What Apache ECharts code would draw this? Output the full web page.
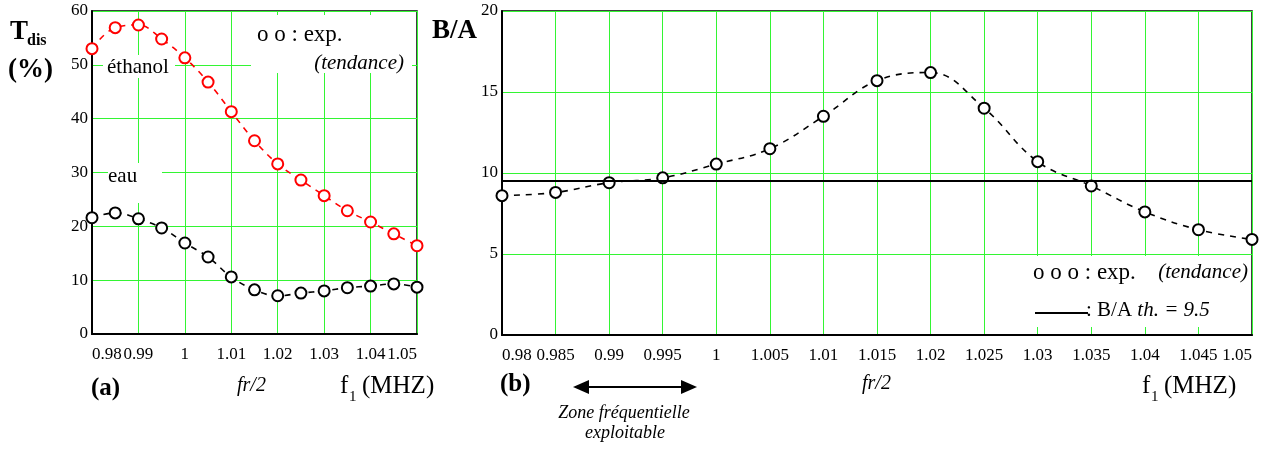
<!DOCTYPE html>
<html>
<head>
<meta charset="utf-8">
<script src="https://cdn.jsdelivr.net/npm/echarts@6/dist/echarts.min.js"></script>
<style>
  html, body { margin: 0; padding: 0; background: #fff; }
  #chart { width: 1272px; height: 452px; }
</style>
</head>
<body>
<div id="chart"></div>
<script>
// ---- data ----
const freqs = [0.98, 0.985, 0.99, 0.995, 1.0, 1.005, 1.01, 1.015, 1.02, 1.025, 1.03, 1.035, 1.04, 1.045, 1.05];
const ethanolTdis = [53.0, 56.9, 57.4, 54.8, 51.3, 46.8, 41.3, 35.9, 31.6, 28.6, 25.7, 22.9, 20.8, 18.6, 16.4];
const eauTdis = [21.6, 22.5, 21.4, 19.7, 16.9, 14.3, 10.6, 8.2, 7.1, 7.6, 8.0, 8.6, 8.9, 9.3, 8.7];
const ratioBA = [8.6, 8.8, 9.4, 9.7, 10.55, 11.5, 13.5, 15.7, 16.2, 14.0, 10.7, 9.2, 7.6, 6.5, 5.9];
const thresholdBA = 9.5;
const xRange = [0.98, 1.05];
const leftYRange = [0, 60];
const rightYRange = [0, 20];

const FONT = 'Liberation Serif';
const GREEN = '#33f533';

function pairs(xs, ys) { return xs.map((x, i) => [x, ys[i]]); }
const fmt = v => String(parseFloat(Number(v).toFixed(3)));

function xAxisFor(gridIndex, interval) {
  return {
    type: 'value', gridIndex, min: xRange[0], max: xRange[1], interval,
    axisLine: { show: true, onZero: false, lineStyle: { color: '#000', width: 2 } },
    axisTick: { show: false },
    splitLine: { show: true, lineStyle: { color: GREEN, width: 1 } },
    axisLabel: {
      color: '#000', fontFamily: FONT, fontSize: 17, margin: 12,
      formatter: fmt, showMinLabel: true, showMaxLabel: true, hideOverlap: false,
      interval: 0, alignMinLabel: 'left', alignMaxLabel: 'right'
    }
  };
}
function yAxisFor(gridIndex, range, interval) {
  return {
    type: 'value', gridIndex, min: range[0], max: range[1], interval,
    axisLine: { show: true, lineStyle: { color: '#000', width: 2 } },
    axisTick: { show: false },
    splitLine: { show: true, lineStyle: { color: GREEN, width: 1 } },
    axisLabel: { color: '#000', fontFamily: FONT, fontSize: 17, margin: 4 }
  };
}
function curve(name, xi, yi, data, color) {
  return {
    name, type: 'line', xAxisIndex: xi, yAxisIndex: yi, data,
    smooth: 0.4, symbol: 'emptyCircle', symbolSize: 11,
    itemStyle: { color: color, borderColor: color, borderWidth: 1.6 },
    lineStyle: { color: color, width: 1.6, type: [6, 6] },
    clip: false, z: 3
  };
}

const txt = (x, y, text, font, extra) => ({
  type: 'text', x, y, z: 5,
  style: Object.assign({ text, font, fill: '#000', align: 'left', verticalAlign: 'top' }, extra || {})
});
const box = (x, y, w, h) => ({ type: 'rect', z: 1, shape: { x, y, width: w, height: h }, style: { fill: '#fff' } });

const chart = echarts.init(document.getElementById('chart'));
chart.setOption({
  animation: false,
  backgroundColor: '#fff',
  grid: [
    { left: 92, top: 11, width: 325, height: 323, show: true, borderColor: '#000', borderWidth: 1.5, backgroundColor: 'transparent' },
    { left: 502, top: 11, width: 750, height: 324, show: true, borderColor: '#000', borderWidth: 1.5, backgroundColor: 'transparent' }
  ],
  xAxis: [xAxisFor(0, 0.01), xAxisFor(1, 0.005)],
  yAxis: [yAxisFor(0, leftYRange, 10), yAxisFor(1, rightYRange, 5)],
  series: [
    curve('éthanol', 0, 0, pairs(freqs, ethanolTdis), '#ff0000'),
    curve('eau', 0, 0, pairs(freqs, eauTdis), '#000000'),
    Object.assign(curve('B/A', 1, 1, pairs(freqs, ratioBA), '#000000'), {
      markLine: {
        silent: true, symbol: 'none', label: { show: false },
        lineStyle: { color: '#000', width: 2, type: 'solid' },
        data: [{ yAxis: thresholdBA }]
      }
    })
  ],
  graphic: [
    // white text regions that hide the grid
    box(251, 15, 161, 58),
    box(103, 55, 72, 23),
    box(108, 163, 54, 40),
    box(1003, 256, 247, 71),
    // left panel
    txt(10, 19, 'T', 'bold 27px "Liberation Serif"'),
    txt(27, 33, 'dis', 'bold 16px "Liberation Serif"'),
    txt(8, 57, '(%)', 'bold 27px "Liberation Serif"'),
    txt(107, 57, 'éthanol', '21px "Liberation Serif"'),
    txt(108, 166, 'eau', '21px "Liberation Serif"'),
    txt(257, 23, 'o o : exp.', '23px "Liberation Serif"'),
    txt(404, 53, '(tendance)', 'italic 21px "Liberation Serif"', { align: 'right' }),
    txt(91, 376, '(a)', 'bold 25px "Liberation Serif"'),
    txt(237, 376, 'fr/2', 'italic 20px "Liberation Serif"'),
    txt(340, 374, 'f', '25px "Liberation Serif"'),
    txt(349, 390, '1', '15px "Liberation Serif"'),
    txt(362, 374, '(MHZ)', '25px "Liberation Serif"'),
    // right panel
    txt(432, 18, 'B/A', 'bold 27px "Liberation Serif"'),
    txt(1033, 261, 'o o o : exp.', '23px "Liberation Serif"'),
    txt(1248, 262, '(tendance)', 'italic 21px "Liberation Serif"', { align: 'right' }),
    { type: 'line', z: 5, shape: { x1: 1035, y1: 313, x2: 1088, y2: 313 }, style: { stroke: '#000', lineWidth: 2 } },
    txt(1086, 300, '{n|: B/A }{i|th. = 9.5}', '21px "Liberation Serif"', {
      rich: {
        n: { fontFamily: FONT, fontSize: 21, fill: '#000' },
        i: { fontFamily: FONT, fontSize: 21, fontStyle: 'italic', fill: '#000' }
      }
    }),
    txt(500, 372, '(b)', 'bold 25px "Liberation Serif"'),
    { type: 'line', z: 5, shape: { x1: 585, y1: 387, x2: 685, y2: 387 }, style: { stroke: '#000', lineWidth: 2 } },
    { type: 'polygon', z: 5, shape: { points: [[573, 387], [589, 380], [589, 394]] }, style: { fill: '#000' } },
    { type: 'polygon', z: 5, shape: { points: [[697, 387], [681, 380], [681, 394]] }, style: { fill: '#000' } },
    txt(624, 404, 'Zone fréquentielle', 'italic 18px "Liberation Serif"', { align: 'center' }),
    txt(625, 424, 'exploitable', 'italic 18px "Liberation Serif"', { align: 'center' }),
    txt(862, 374, 'fr/2', 'italic 20px "Liberation Serif"'),
    txt(1142, 374, 'f', '25px "Liberation Serif"'),
    txt(1151, 390, '1', '15px "Liberation Serif"'),
    txt(1164, 374, '(MHZ)', '25px "Liberation Serif"')
  ]
});
</script>
</body>
</html>
